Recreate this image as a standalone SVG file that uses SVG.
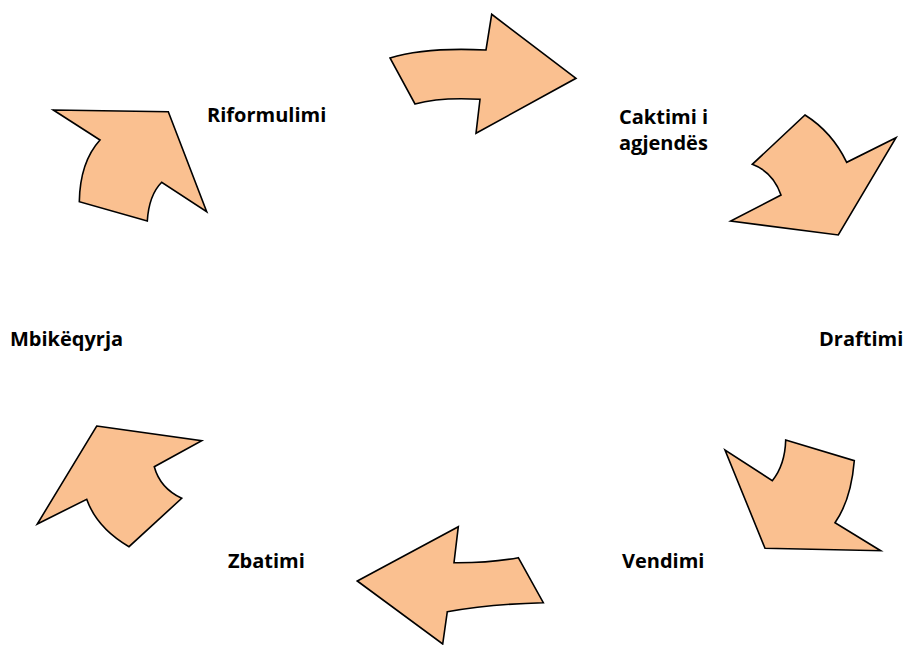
<svg xmlns="http://www.w3.org/2000/svg" width="911" height="645" viewBox="0 0 911 645">
<style>
.arr{fill:#FAC090;stroke:#000;stroke-width:1.6;stroke-linejoin:miter}
.lbl{font-family:"Open Sans","Liberation Sans",sans-serif;font-weight:700;font-size:20px;fill:#000}
</style>
<rect width="911" height="645" fill="#fff"/>
<g id="connectors">
<path id="arrow-top" class="arr" d="M390,58 Q425,47 486,50 L491.7,14.3 L576,78.3 L476,133.3 L480,99.3 Q440,97 415,104 Z"/>
<path id="arrow-topright" class="arr" d="M805,115 Q832,132 846.7,162.3 L896,137.7 L838.3,235 L730.7,221 L781,195 Q773,172 752.3,164.3 Z"/>
<path id="arrow-bottomright" class="arr" d="M785.7,440 L854.3,460.7 Q851,500 835,522.7 L880.7,550.7 L765,548.3 L725,450 L772.3,480.7 Q785,465 785.7,440 Z"/>
<path id="arrow-bottom" class="arr" d="M357.3,581 L458.3,526.7 L454,562.7 Q490,563 518.3,557.7 L543.3,602.7 Q490,604 447.3,611.7 L442.7,644 Z"/>
<path id="arrow-bottomleft" class="arr" d="M96.7,426 L201.7,440.7 L154.3,466.7 Q160,488 181.7,498.3 L129,546.7 Q97,528 86.7,499.3 L37.3,524 Z"/>
<path id="arrow-topleft" class="arr" d="M53.3,110 L168.3,111.7 L206.7,211.7 L161.7,182.3 Q149,195 147.3,221 L79.3,201.7 Q80,162 100,140 Z"/>
</g>
<g id="node-riformulimi"><text class="lbl" x="207" y="122">Riformulimi</text></g>
<g id="node-caktimi"><text class="lbl" x="619" y="124">Caktimi i</text><text class="lbl" x="619" y="150">agjendës</text></g>
<g id="node-mbikeqyrja"><text class="lbl" x="10" y="346">Mbikëqyrja</text></g>
<g id="node-draftimi"><text class="lbl" x="819" y="346">Draftimi</text></g>
<g id="node-vendimi"><text class="lbl" x="622" y="568">Vendimi</text></g>
<g id="node-zbatimi"><text class="lbl" x="228" y="568">Zbatimi</text></g>
</svg>
